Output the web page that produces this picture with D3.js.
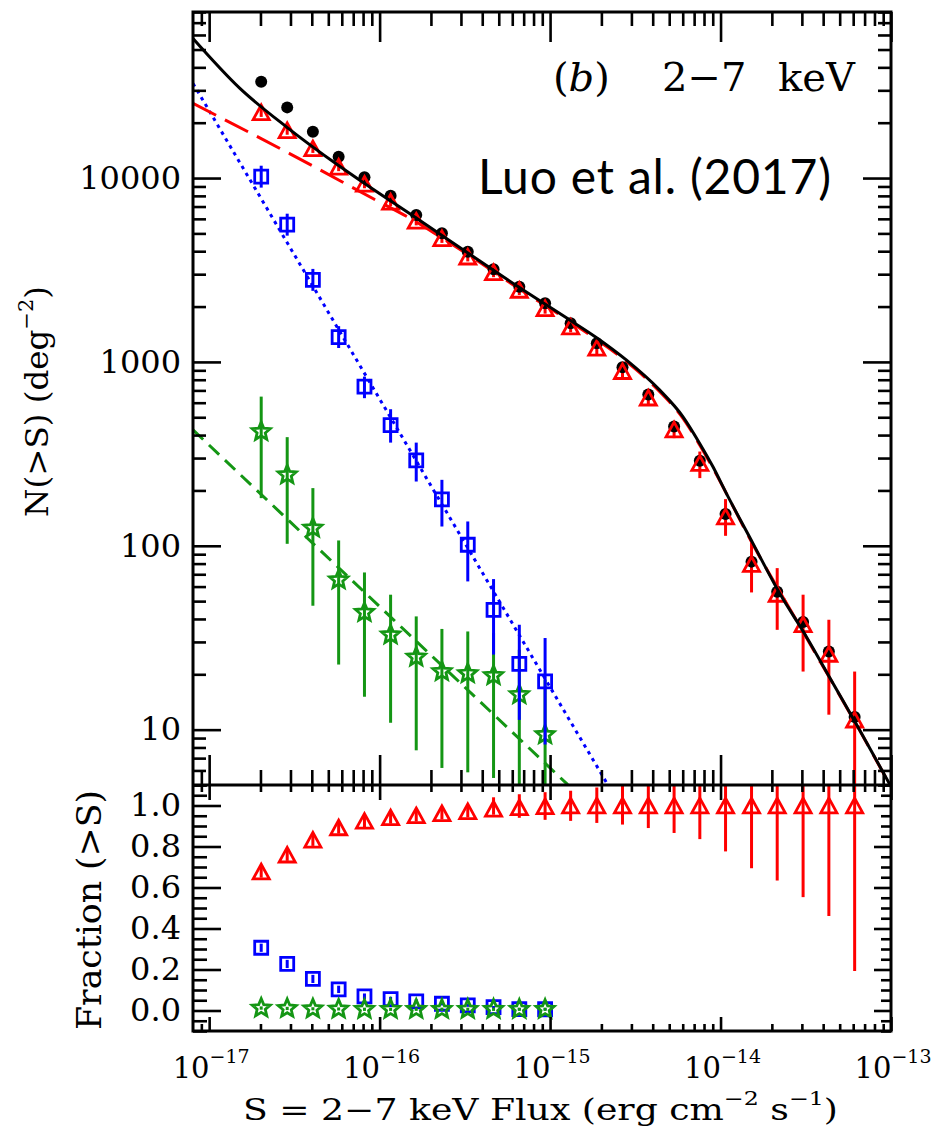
<!DOCTYPE html>
<html>
<head>
<meta charset="utf-8">
<script src="https://cdn.jsdelivr.net/npm/d3@7"></script>
<style>
body { margin: 0; background: #fff; }
</style>
</head>
<body>
<div id="chart"></div>
<script>
// flux bins, erg cm^-2 s^-1
var flux = [2.02e-17, 2.87e-17, 4.06e-17, 5.75e-17, 8.15e-17, 1.16e-16, 1.64e-16, 2.32e-16,
    3.29e-16, 4.66e-16, 6.60e-16, 9.35e-16, 1.32e-15, 1.88e-15, 2.66e-15, 3.77e-15,
    5.34e-15, 7.56e-15, 1.07e-14, 1.52e-14, 2.15e-14, 3.05e-14, 4.32e-14, 6.12e-14];

// total N(>S), black dots
var totalN = [33380, 24230, 17850, 13060, 10090, 8013, 6295, 5006, 3977, 3190, 2566, 2084,
    1623, 1264, 935, 665, 445, 290, 149, 82, 56.3, 38.5, 26.6, 11.7];

// AGN, red triangles
var agnN = [22790, 18190, 14500, 11520, 9300, 7434, 5852, 4702, 3735, 3073, 2462, 1958,
    1555, 1192, 890, 639, 429, 281.6, 144.3, 79.6, 54.7, 37.4, 25.8, 11.33];
var agnLo = [21500, 17200, 13700, 10900, 8800, 7030, 5530, 4440, 3520, 2890, 2310, 1830,
    1450, 1100, 815, 580, 385, 233.4, 113.3, 55.75, 34.9, 20.7, 12.06, 3];
var agnHi = [24100, 19200, 15300, 12200, 9830, 7860, 6190, 4980, 3960, 3270, 2620, 2090,
    1670, 1290, 970, 703, 476, 325.5, 179.4, 104.2, 75.6, 54.2, 39.6, 20.7];

// galaxies, blue squares (first 12 bins)
var galN = [10175, 5580, 2794, 1364, 734, 453, 291.5, 178.9, 101.3, 44.8, 22.8, 18.3];
var galLo = [8870, 4860, 2435, 1190, 635, 364, 223.6, 127.3, 64, 25.6, 11.3, 8.3];
var galHi = [11670, 6400, 3205, 1565, 832, 553, 364, 228.4, 135.6, 65.9, 37.2, 31.5];

// stars, green (first 12 bins)
var starN = [418, 243.2, 124.8, 65.3, 43.4, 32.8, 24.8, 20.7, 20.2, 19.7, 15.5, 9.39];
var starLo = [181.6, 102.5, 47.2, 22.6, 15.1, 10.9, 7.72, 6.19, 5.86, 5.46, 3.5, 2];
var starHi = [647.6, 389.8, 205.9, 106.9, 71.6, 54.2, 41.3, 35.3, 34.2, 33.5, 27.2, 18.7];

// fractions, lower panel
var agnFrac = [0.678, 0.760, 0.833, 0.893, 0.925, 0.942, 0.952, 0.962, 0.972, 0.984, 0.991, 0.996,
    1, 1, 1, 1, 1, 1, 1, 1, 1, 1, 1, 1];
var agnFracLo = [0.648, 0.73, 0.803, 0.863, 0.895, 0.912, 0.922, 0.932, 0.942, 0.955, 0.94, 0.93,
    0.925, 0.915, 0.907, 0.89, 0.866, 0.836, 0.776, 0.694, 0.634, 0.553, 0.461, 0.193];
var agnFracHi = [0.708, 0.79, 0.863, 0.923, 0.955, 0.972, 0.982, 0.992, 1.002, 1.04, 1.055, 1.065,
    1.072, 1.088, 1.1, 1.12, 1.14, 1.17, 1.22, 1.3, 1.37, 1.45, 1.54, 1.8];
var galFrac = [0.306, 0.227, 0.154, 0.103, 0.069, 0.055, 0.045, 0.033, 0.025, 0.016, 0.007, 0.006];
var galFracLo = [0.286, 0.207, 0.134, 0.085, 0.055, 0.043, 0.035, 0.025, 0.018, 0.01, 0.002, 0.001];
var galFracHi = [0.326, 0.247, 0.174, 0.121, 0.083, 0.067, 0.055, 0.041, 0.032, 0.022, 0.012, 0.011];
var starFrac = [0.012, 0.010, 0.008, 0.007, 0.006, 0.006, 0.006, 0.006, 0.006, 0.006, 0.006, 0.006];
var starFracLo = [0.004, 0.002, 0.001, 0.0, -0.002, -0.002, -0.002, -0.002, -0.002, -0.002, -0.002, -0.002];
var starFracHi = [0.02, 0.018, 0.016, 0.015, 0.014, 0.014, 0.014, 0.014, 0.014, 0.014, 0.014, 0.014];

// model curves
var totalModelS = [8.04e-18, 1.51e-17, 2.874e-17, 5.693e-17, 8.166e-17, 1.641e-16, 3.296e-16, 6.473e-16,
    1.331e-15, 1.866e-15, 2.798e-15, 4.386e-15, 6.01e-15, 7.53e-15, 9.012e-15, 1.08e-14,
    1.546e-14, 2.218e-14, 3.181e-14, 4.557e-14, 6.534e-14, 9.93e-14];
var totalModelN = [57430, 30840, 18820, 11770, 9336, 6062, 3913, 2572,
    1671, 1359, 1025, 704.3, 504.2, 361.6, 269.8, 193.4,
    103.4, 55.3, 32.15, 17.94, 10, 4.96];
var agnModelS = [8.04e-18, 2.965e-17, 9.135e-17, 1.568e-16, 2.248e-16, 3.296e-16, 6.473e-16, 1.331e-15,
    2.798e-15, 4.386e-15, 6.01e-15, 7.53e-15, 9.012e-15, 1.546e-14, 3.181e-14, 6.534e-14, 9.93e-14];
var agnModelN = [25470, 13590, 7738, 5911, 4809, 3838, 2525, 1639,
    1006, 691.3, 495, 354.8, 264.8, 101.9, 31.82, 9.94, 4.93];
var galModelS = [8.04e-18, 2.18e-15];
var galModelN = [32710, 5.02];
var starModelS = [8.04e-18, 1.27e-15];
var starModelN = [427, 5.02];

// axis ticks
var xMajor = [1e-17, 1e-16, 1e-15, 1e-14, 1e-13];
var xTickExp = ['\u221217', '\u221216', '\u221215', '\u221214', '\u221213'];
var yMajor = [10, 100, 1000, 10000];
var fMajor = [0, 0.2, 0.4, 0.6, 0.8, 1.0];

var red = '#ff0000', blue = '#0000ff', green = '#149614';
var serif = 'DejaVu Serif';

// frame edges (window.top is taken, so other names)
var xL = 193, xR = 891, yT = 12, yM = 785, yB = 1031;

var svg = d3.select('#chart').append('svg')
    .attr('width', 935)
    .attr('height', 1130);

var x = d3.scaleLog().domain([8.04e-18, 1e-13]).range([xL, xR]);
var yN = d3.scaleLog().domain([5, 8e4]).range([yM, yT]);
var yF = d3.scaleLinear().domain([-0.1, 1.1]).range([yB, yM]);

// minor tick positions
var xMinor = [];
[-18, -17, -16, -15, -14].forEach(function (e) {
    for (var m = 2; m <= 9; m++) {
        var v = m * Math.pow(10, e);
        if (v >= 8.04e-18 && v <= 1e-13) xMinor.push(v);
    }
});
var yMinor = [];
[0, 1, 2, 3, 4].forEach(function (e) {
    for (var m = 2; m <= 9; m++) {
        var v = m * Math.pow(10, e);
        if (v >= 5 && v <= 8e4) yMinor.push(v);
    }
});
var fMinor = d3.range(-0.1, 1.1001, 0.05).filter(function (v) {
    return Math.abs(Math.round(v * 5) - v * 5) > 0.01;
});

function ticks(axis, tx, ty, values, size) {
    svg.append('g')
        .attr('transform', 'translate(' + tx + ',' + ty + ')')
        .call(axis.tickValues(values).tickSize(size).tickSizeOuter(0).tickFormat(''))
        .call(function (g) { g.select('.domain').remove(); })
        .selectAll('line')
        .attr('stroke', '#000')
        .attr('stroke-width', 2.6);
}

// clip paths
var defs = svg.append('defs');
defs.append('clipPath').attr('id', 'clipTop').append('rect')
    .attr('x', xL).attr('y', yT).attr('width', xR - xL).attr('height', yM - yT);
defs.append('clipPath').attr('id', 'clipBot').append('rect')
    .attr('x', xL).attr('y', yM).attr('width', xR - xL).attr('height', yB - yM);

function triPath(s) {
    return 'M0,' + (-s) + 'L' + (s * 1.1) + ',' + s + 'L' + (-s * 1.1) + ',' + s + 'Z';
}
function starPath(r) {
    var p = [];
    for (var i = 0; i < 10; i++) {
        var rr = i % 2 === 0 ? r : r * 0.45;
        var a = -Math.PI / 2 + i * Math.PI / 5;
        p.push([rr * Math.cos(a), rr * Math.sin(a)]);
    }
    return 'M' + p.join('L') + 'Z';
}

function errBars(g, xs, lo, hi, y, color) {
    g.append('g').selectAll('line')
        .data(xs)
        .enter()
        .append('line')
        .attr('x1', function (d) { return x(d); })
        .attr('x2', function (d) { return x(d); })
        .attr('y1', function (d, i) { return y(lo[i]); })
        .attr('y2', function (d, i) { return y(hi[i]); })
        .attr('stroke', color)
        .attr('stroke-width', 3);
}

function markers(g, xs, vals, y, path, color) {
    g.append('g').selectAll('path')
        .data(xs)
        .enter()
        .append('path')
        .attr('transform', function (d, i) { return 'translate(' + x(d) + ',' + y(vals[i]) + ')'; })
        .attr('d', path)
        .attr('fill', 'none')
        .attr('stroke', color)
        .attr('stroke-width', 2.8)
        .attr('stroke-linejoin', 'miter');
}

function modelLine(g, s, n, color, dash, curve) {
    var line = d3.line()
        .x(function (d) { return x(d); })
        .y(function (d, i) { return yN(n[i]); })
        .curve(curve || d3.curveLinear);
    g.append('path')
        .attr('d', line(s))
        .attr('fill', 'none')
        .attr('stroke', color)
        .attr('stroke-width', 3)
        .attr('stroke-dasharray', dash);
}

var squarePath = 'M-6.5,-6.5H6.5V6.5H-6.5Z';
var sFew = flux.slice(0, 12);

// ---- top panel ----
var gTop = svg.append('g').attr('clip-path', 'url(#clipTop)');

modelLine(gTop, starModelS, starModelN, green, '14,8');
modelLine(gTop, galModelS, galModelN, blue, '3.5,4.5');
modelLine(gTop, agnModelS, agnModelN, red, '26,10', d3.curveMonotoneX);

errBars(gTop, sFew, starLo, starHi, yN, green);
markers(gTop, sFew, starN, yN, starPath(9.5), green);
errBars(gTop, sFew, galLo, galHi, yN, blue);
markers(gTop, sFew, galN, yN, squarePath, blue);
errBars(gTop, flux, agnLo, agnHi, yN, red);

gTop.append('g').selectAll('circle')
    .data(flux)
    .enter()
    .append('circle')
    .attr('cx', function (d) { return x(d); })
    .attr('cy', function (d, i) { return yN(totalN[i]); })
    .attr('r', 6)
    .attr('fill', '#000');

markers(gTop, flux, agnN, yN, triPath(7.3), red);
modelLine(gTop, totalModelS, totalModelN, '#000', null, d3.curveMonotoneX);

// ---- lower panel ----
var gBot = svg.append('g').attr('clip-path', 'url(#clipBot)');
errBars(gBot, flux, agnFracLo, agnFracHi, yF, red);
markers(gBot, flux, agnFrac, yF, triPath(7.3), red);
errBars(gBot, sFew, galFracLo, galFracHi, yF, blue);
markers(gBot, sFew, galFrac, yF, squarePath, blue);
errBars(gBot, sFew, starFracLo, starFracHi, yF, green);
markers(gBot, sFew, starFrac, yF, starPath(9.5), green);

// ---- ticks ----
// top panel
ticks(d3.axisTop(x), 0, yT, xMajor, -30);
ticks(d3.axisTop(x), 0, yT, xMinor, -14);
ticks(d3.axisBottom(x), 0, yM, xMajor, -30);
ticks(d3.axisBottom(x), 0, yM, xMinor, -15);
ticks(d3.axisLeft(yN), xL, 0, yMajor, -28);
ticks(d3.axisLeft(yN), xL, 0, yMinor, -13);
ticks(d3.axisRight(yN), xR, 0, yMajor, -28);
ticks(d3.axisRight(yN), xR, 0, yMinor, -13);
// lower panel
ticks(d3.axisTop(x), 0, yM, xMajor, -15);
ticks(d3.axisTop(x), 0, yM, xMinor, -7);
ticks(d3.axisBottom(x), 0, yB, xMajor, -14);
ticks(d3.axisBottom(x), 0, yB, xMinor, -7);
ticks(d3.axisLeft(yF), xL, 0, fMajor, -28);
ticks(d3.axisLeft(yF), xL, 0, fMinor, -14);
ticks(d3.axisRight(yF), xR, 0, fMajor, -17);
ticks(d3.axisRight(yF), xR, 0, fMinor, -10);

// frame
svg.append('rect')
    .attr('x', xL).attr('y', yT)
    .attr('width', xR - xL).attr('height', yB - yT)
    .attr('fill', 'none').attr('stroke', '#000').attr('stroke-width', 3);
svg.append('line')
    .attr('x1', xL).attr('x2', xR).attr('y1', yM).attr('y2', yM)
    .attr('stroke', '#000').attr('stroke-width', 3);

// ---- tick labels ----
svg.append('g')
    .attr('transform', 'translate(' + xL + ',0)')
    .call(d3.axisLeft(yN).tickValues(yMajor).tickSize(0).tickPadding(12).tickFormat(d3.format('d')))
    .call(function (g) { g.select('.domain').remove(); })
    .selectAll('text')
    .attr('font-family', serif)
    .attr('font-size', 32)
    .attr('fill', '#000');

svg.append('g')
    .attr('transform', 'translate(' + xL + ',0)')
    .call(d3.axisLeft(yF).tickValues(fMajor).tickSize(0).tickPadding(12).tickFormat(d3.format('.1f')))
    .call(function (g) { g.select('.domain').remove(); })
    .selectAll('text')
    .attr('font-family', serif)
    .attr('font-size', 32)
    .attr('fill', '#000');

var xl = svg.append('g').selectAll('text')
    .data(xMajor)
    .enter()
    .append('text')
    .attr('x', function (d) { return x(d) + 2; })
    .attr('y', 1078)
    .attr('text-anchor', 'middle')
    .attr('font-family', serif)
    .attr('font-size', 29);
xl.append('tspan').text('10');
xl.append('tspan')
    .attr('dy', -15)
    .attr('font-size', 19)
    .text(function (d, i) { return xTickExp[i]; });

// ---- axis titles ----
var xt = svg.append('text')
    .attr('x', 243)
    .attr('y', 1120)
    .attr('font-family', serif)
    .attr('font-size', 29)
    .attr('textLength', 595)
    .attr('lengthAdjust', 'spacingAndGlyphs');
xt.append('tspan').text('S = 2\u22127 keV Flux (erg cm');
xt.append('tspan').attr('dy', -15).attr('font-size', 19).text('\u22122');
xt.append('tspan').attr('dy', 15).text(' s');
xt.append('tspan').attr('dy', -15).attr('font-size', 19).text('\u22121');
xt.append('tspan').attr('dy', 15).text(')');

var yt = svg.append('text')
    .attr('transform', 'translate(48,517) rotate(-90)')
    .attr('font-family', serif)
    .attr('font-size', 31)
    .attr('textLength', 231)
    .attr('lengthAdjust', 'spacingAndGlyphs');
yt.append('tspan').text('N(>S) (deg');
yt.append('tspan').attr('dy', -15).attr('font-size', 20).text('\u22122');
yt.append('tspan').attr('dy', 15).text(')');

svg.append('text')
    .attr('transform', 'translate(101,1030) rotate(-90)')
    .attr('font-family', serif)
    .attr('font-size', 33)
    .attr('textLength', 240)
    .attr('lengthAdjust', 'spacingAndGlyphs')
    .text('Fraction (>S)');

// ---- annotations ----
var ann = svg.append('text')
    .attr('y', 91)
    .attr('font-family', serif)
    .attr('font-size', 40);
ann.append('tspan').attr('x', 553).text('(');
ann.append('tspan').attr('font-style', 'italic').text('b');
ann.append('tspan').text(')');
ann.append('tspan').attr('x', 662).text('2\u22127');
ann.append('tspan').attr('x', 778).text('keV');

svg.append('text')
    .attr('x', 478)
    .attr('y', 194)
    .attr('font-family', 'Lato')
    .attr('font-size', 48)
    .attr('textLength', 353)
    .text('Luo et al. (2017)');
</script>
</body>
</html>
